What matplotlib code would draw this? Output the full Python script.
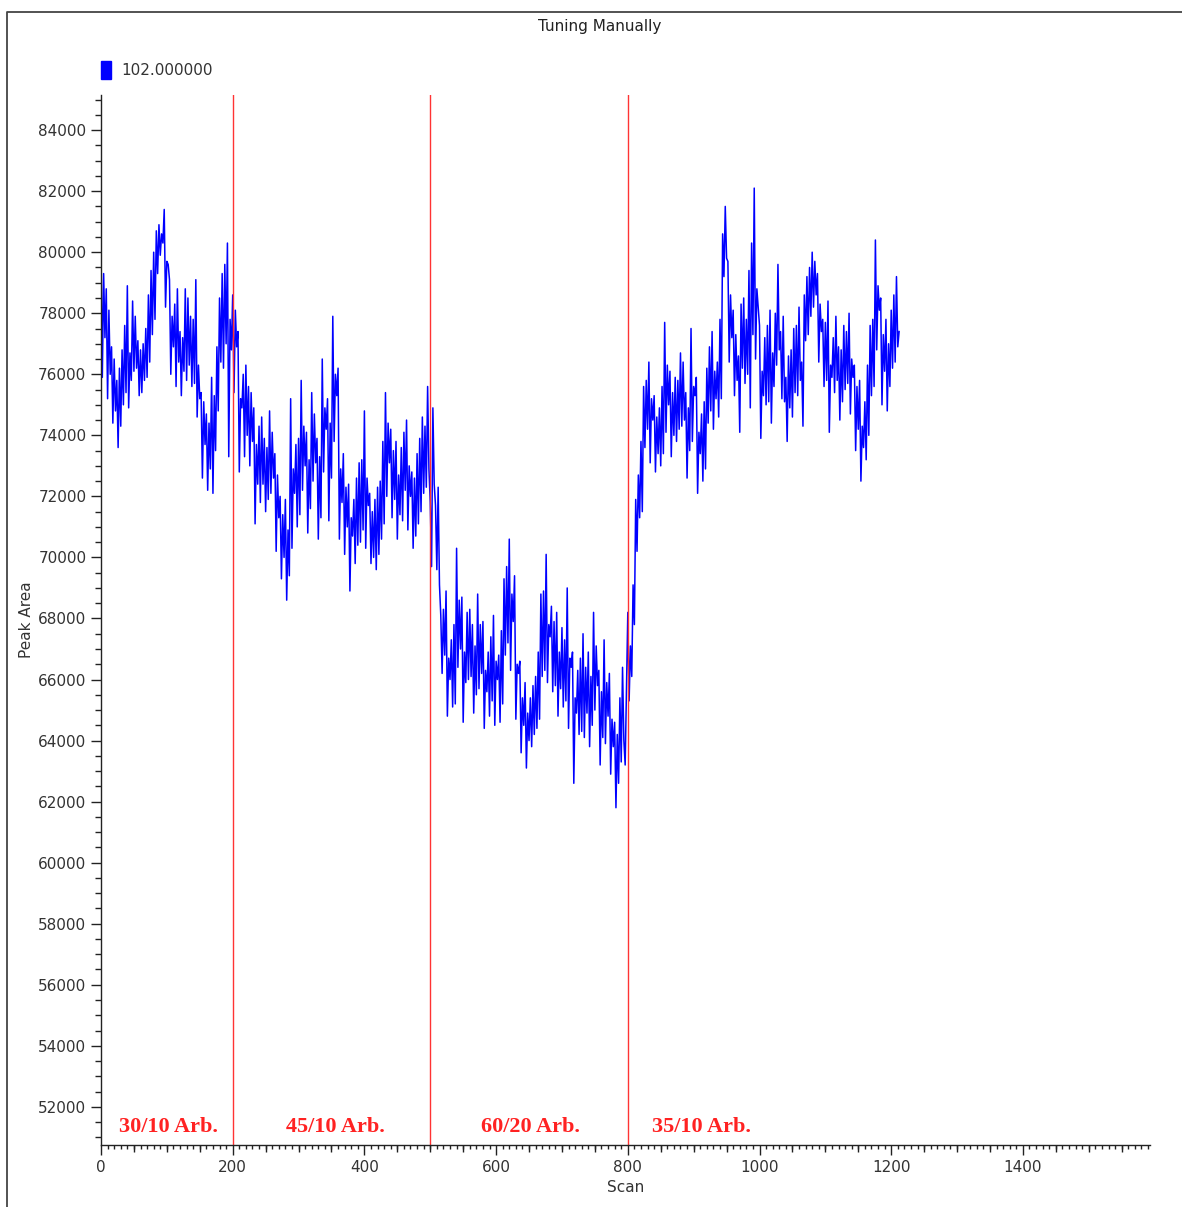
import matplotlib
matplotlib.use("Agg")
import numpy as np
import matplotlib.pyplot as plt
from matplotlib.patches import Patch
from matplotlib.lines import Line2D
from matplotlib.ticker import MultipleLocator, FixedLocator, NullFormatter

# Peak area per scan, sampled every 2 scans, one list per tuning setting
scan_step = 2
area_30_10 = [
    80100, 75900, 79300, 77200, 78800, 75200, 78100, 76000, 76900, 74400,
    76500, 74800, 75800, 73600, 76200, 74300, 76800, 75000, 77600, 75400,
    78900, 74900, 76700, 75800, 78400, 76100, 77900, 76200, 77100, 75300,
    76800, 75400, 77000, 75800, 77500, 75900, 78600, 76400, 79400, 77300,
    80000, 77800, 80700, 79300, 80900, 79900, 80600, 80300, 81400, 78200,
    79700, 79600, 79100, 76000, 77900, 76900, 78300, 75600, 78800, 76400,
    77400, 75300, 77200, 76100, 78800, 75800, 78500, 76300, 77900, 75600,
    77800, 75700, 79100, 74600, 76300, 75200, 75400, 72600, 75100, 73700,
    74700, 72200, 74400, 72900, 75900, 72100, 75300, 73500, 76900, 74800,
    78500, 76400, 79300, 76200, 79600, 77000, 80300, 73300, 77800, 76800,
]
area_45_10 = [
    78600, 75400, 78100, 76900, 77400, 72800, 75200, 74900, 76000, 73300,
    76300, 74000, 75600, 73000, 75400, 73800, 74900, 71100, 73700, 72400,
    74300, 71800, 74600, 72400, 73900, 71500, 73600, 71900, 74800, 72100,
    74100, 72600, 73400, 70200, 72700, 71300, 72000, 69300, 71400, 70000,
    71900, 68600, 70900, 69400, 75200, 70300, 72900, 72100, 73700, 71000,
    73900, 71400, 75800, 72200, 74300, 73000, 74100, 70800, 73200, 71600,
    75400, 72500, 74700, 73100, 73900, 70600, 73300, 71300, 76500, 72800,
    74900, 74200, 75200, 71200, 74400, 72600, 77900, 73800, 76000, 75300,
    76200, 70600, 72900, 71800, 73400, 70100, 72300, 71000, 72400, 68900,
    71300, 70700, 71900, 69800, 72600, 70400, 73100, 70500, 73200, 70900,
    74800, 70300, 72600, 71700, 72100, 69800, 71500, 70000, 71900, 69600,
    72300, 70100, 72500, 70600, 73800, 71100, 75400, 72000, 74400, 73100,
    74200, 71300, 73500, 71900, 73800, 70600, 72700, 71400, 73600, 71200,
    74100, 72200, 74500, 70900, 73000, 72000, 72800, 70300, 72600, 70700,
    73400, 71100, 73900, 71500, 74600, 72100, 74300, 72300, 75600, 72900,
]
area_60_20 = [
    71800, 69700, 74900, 72400, 71700, 69600, 72300, 69100, 68100, 66200,
    68300, 66800, 68900, 64800, 66700, 66000, 67300, 65100, 67800, 65200,
    70300, 66400, 68600, 67000, 68700, 64600, 66900, 65900, 68200, 66000,
    68300, 66100, 67800, 64900, 67100, 65500, 68800, 65700, 67800, 66200,
    67900, 64400, 66300, 65600, 66900, 64800, 67400, 65300, 68100, 64500,
    66600, 66000, 66800, 64600, 67600, 65200, 69300, 66800, 69700, 67200,
    70600, 66300, 68800, 67900, 69400, 64700, 66500, 66200, 66600, 63600,
    65400, 64500, 65900, 63100, 64900, 64000, 65400, 63800, 65800, 64200,
    66100, 64400, 66900, 64700, 68800, 66100, 68900, 66300, 70100, 65900,
    67800, 67400, 68400, 65600, 67900, 65800, 68200, 64800, 66900, 65700,
    67700, 65100, 67300, 65300, 69000, 64400, 66700, 66400, 66900, 62600,
    65400, 64900, 66300, 64200, 66700, 64300, 67500, 64100, 66400, 64900,
    66900, 63800, 66100, 64500, 68200, 65000, 67100, 65800, 66300, 63200,
    65600, 64100, 67300, 63900, 65900, 64800, 66200, 62900, 64700, 63800,
    64600, 61800, 64200, 62600, 65400, 63300, 66400, 64000, 63200, 65600,
]
area_35_10 = [
    68200, 65300, 67100, 66100, 69100, 67800, 71900, 70200, 72700, 71300,
    73800, 71500, 75600, 73600, 75800, 74200, 76400, 73100, 75200, 74500,
    75300, 72800, 74600, 73400, 74900, 73000, 75600, 73400, 77700, 74100,
    76300, 75000, 76100, 73300, 75400, 74000, 75900, 73800, 75800, 74200,
    76700, 74300, 76400, 74500, 75400, 72600, 74900, 73500, 77500, 73800,
    75600, 75300, 75900, 72100, 74100, 73400, 74700, 72500, 75100, 72900,
    76200, 74400, 76900, 74800, 77400, 74200, 76100, 75200, 76400, 74600,
    77800, 75200, 80600, 79200, 81500, 79800, 79700, 76400, 78600, 77200,
    78100, 75300, 77300, 75800, 76600, 74100, 78300, 76200, 78500, 75700,
    77800, 76000, 79400, 74900, 80300, 77300, 82100, 76500, 78800, 78200,
    77600, 73900, 76100, 75300, 77200, 75000, 77600, 75100, 78100, 74400,
    76700, 75600, 78000, 76300, 79600, 76800, 77400, 75200, 77900, 75100,
    75900, 73800, 76600, 74900, 76800, 74600, 77500, 75400, 77600, 75300,
    78200, 75800, 76400, 74300, 78600, 77100, 79200, 77300, 79500, 77900,
    80000, 78200, 79700, 78600, 79300, 76400, 78300, 77400, 77800, 75600,
    77700, 75800, 78400, 74100, 76300, 75900, 77200, 75400, 77900, 75800,
    76900, 74500, 76800, 75100, 77600, 75500, 77400, 75700, 78000, 74700,
    76500, 75900, 76300, 73500, 75600, 74200, 75800, 72500, 74300, 73600,
    75100, 73200, 76300, 74000, 77600, 75300, 77800, 75600, 80400, 76800,
    78900, 78100, 78500, 75000, 77300, 76100, 77800, 74800, 77000, 75600,
    78100, 76200, 78600, 76400, 79200, 76900, 77400,
]

# Scans where the setting was changed, and the label of each segment
change_scans = [200, 500, 800]
segment_labels = ["30/10 Arb.", "45/10 Arb.", "60/20 Arb.", "35/10 Arb."]
segment_label_x = [103, 356, 652, 912]

peak_area = area_30_10 + area_45_10 + area_60_20 + area_35_10
scans = np.arange(len(peak_area)) * scan_step

W, H = 1182, 1207
fig = plt.figure(figsize=(W / 100, H / 100), dpi=100)
ax = fig.add_axes([101 / W, 1 - 1145 / H, (1150 - 101) / W, (1145 - 95) / H])

ax.plot(scans, peak_area, color="#0000ff", lw=1.1, label="102.000000")

for s in change_scans:
    ax.axvline(s, color="#ff3333", lw=1.0)
for x, txt in zip(segment_label_x, segment_labels):
    ax.text(x, 51350, txt, color="#ff2222", fontsize=16, fontweight="bold",
            family="Liberation Serif", ha="center", va="center")

ax.set_xlim(0, 1593)
ax.set_ylim(50750, 85150)

for side in ("top", "right"):
    ax.spines[side].set_visible(False)
for side in ("left", "bottom"):
    ax.spines[side].set_color("#222222")
    ax.spines[side].set_linewidth(1.0)

ax.xaxis.set_major_locator(MultipleLocator(200))
ax.xaxis.set_minor_locator(MultipleLocator(10))
ax.yaxis.set_major_locator(MultipleLocator(2000))
ax.yaxis.set_minor_locator(MultipleLocator(500))
ax.tick_params(which="major", length=7, width=1, color="#222222",
               labelsize=11, labelcolor="#333333")
ax.tick_params(which="minor", length=3, width=1, color="#222222")
ax.tick_params(axis="y", which="minor", length=4)

# medium ticks every 50 scans along the bottom axis
mid = ax.secondary_xaxis("bottom")
mid.spines["bottom"].set_visible(False)
mid.xaxis.set_major_locator(FixedLocator([v for v in range(50, 1600, 50) if v % 200]))
mid.xaxis.set_major_formatter(NullFormatter())
mid.tick_params(length=5, width=1, color="#222222")

ax.set_xlabel("Scan", fontsize=11, color="#333333", labelpad=4)
ax.set_ylabel("Peak Area", fontsize=11, color="#333333", labelpad=3)

fig.text(600 / W, 1 - 26 / H, "Tuning Manually", ha="center", va="center",
         fontsize=11, color="#222222")

ax.legend(handles=[Patch(color="#0000ff", label="102.000000")],
          loc="center left", bbox_to_anchor=(101 / W, 1 - 70 / H),
          bbox_transform=fig.transFigure, frameon=False, fontsize=11,
          handlelength=0.65, handleheight=1.4, handletextpad=0.7,
          borderpad=0, borderaxespad=0, labelcolor="#333333")

# outer frame around the plot area
x0, y0 = 7 / W, 1 - 12 / H
fig.add_artist(Line2D([x0, x0, 1.0], [0.0, y0, y0], transform=fig.transFigure,
                      color="#444444", lw=1.3))

fig.savefig("out.png", dpi=100)
